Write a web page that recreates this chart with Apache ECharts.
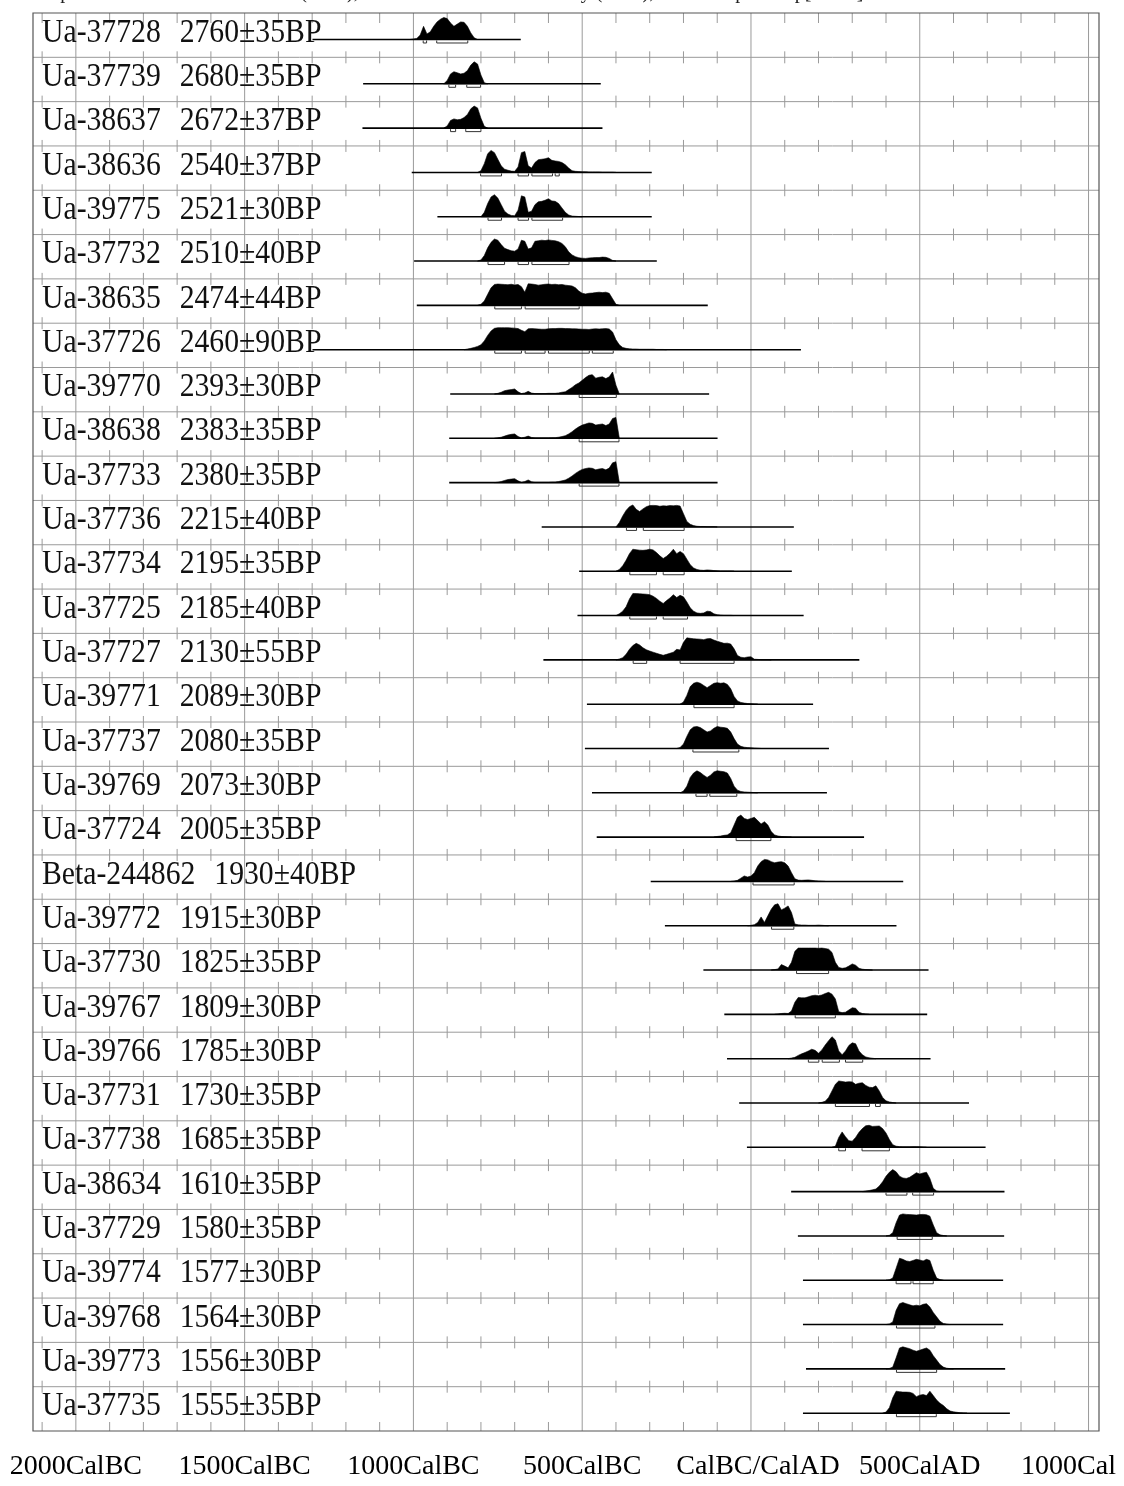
<!DOCTYPE html>
<html><head><meta charset="utf-8">
<script src="https://cdn.jsdelivr.net/npm/echarts@6/dist/echarts.min.js"></script>
<style>html,body{margin:0;padding:0;background:#fff}#c{width:1124px;height:1486px}</style>
</head><body><div id="c"></div>
<script>
const xMin = -2127, xMax = 1031;
const majorTicks = [-2000, -1500, -1000, -500, 0, 500, 1000];
const tickLabels = ['2000CalBC', '1500CalBC', '1000CalBC', '500CalBC', 'CalBC/CalAD', '500CalAD', '1000Cal'];
const minorTicks = [-2100, -1900, -1800, -1700, -1600, -1400, -1300, -1200, -1100, -900, -800, -700, -600, -400, -300, -200, -100, 100, 200, 300, 400, 600, 700, 800, 900];
const headerText = 'Atmospheric data from Reimer et al (2009);OxCal v4.1.7 Bronk Ramsey (2010); r:5 sd:12 prob usp[chron]';

const sampleIds = ['Ua-37728','Ua-37739','Ua-38637','Ua-38636','Ua-39775','Ua-37732','Ua-38635','Ua-37726','Ua-39770','Ua-38638','Ua-37733','Ua-37736','Ua-37734','Ua-37725','Ua-37727','Ua-39771','Ua-37737','Ua-39769','Ua-37724','Beta-244862','Ua-39772','Ua-37730','Ua-39767','Ua-39766','Ua-37731','Ua-37738','Ua-38634','Ua-37729','Ua-39774','Ua-39768','Ua-39773','Ua-37735'];
const bpLabels = ['2760±35BP','2680±35BP','2672±37BP','2540±37BP','2521±30BP','2510±40BP','2474±44BP','2460±90BP','2393±30BP','2383±35BP','2380±35BP','2215±40BP','2195±35BP','2185±40BP','2130±55BP','2089±30BP','2080±35BP','2073±30BP','2005±35BP','1930±40BP','1915±30BP','1825±35BP','1809±30BP','1785±30BP','1730±35BP','1685±35BP','1610±35BP','1580±35BP','1577±30BP','1564±30BP','1556±30BP','1555±35BP'];
const lineStart = [-1299,-1149,-1151,-1005,-929,-998,-990,-1299,-891,-894,-894,-620,-509,-514,-615,-486,-492,-471,-457,-297,-255,-141,-79,-71,-35,-12,119,139,154,154,163,154];
const lineEnd = [-682,-445,-440,-294,-294,-279,-128,148,-124,-99,-99,127,121,156,321,184,231,225,335,451,431,526,522,532,646,695,751,750,747,747,753,767];
const densStep = 10;
const densStart = [-1010,-910,-910,-810,-800,-810,-810,-850,-760,-760,-760,-400,-400,-400,-400,-210,-220,-210,-110,-60,-10,60,70,110,200,240,330,400,400,400,400,390];

const d0 = [0,2,5,20,60,25,35,60,80,92,100,95,75,60,70,80,78,60,30,8,0];
const d1 = [0,15,45,55,50,45,48,60,85,100,90,40,5,0];
const d2 = [0,10,35,42,38,40,48,62,88,100,92,45,8,0];
const d3 = [0,8,40,85,100,90,60,30,15,10,6,5,25,90,95,30,20,45,58,60,62,67,55,52,50,45,35,20,8,5,4,3,3,2,2,2,2,1,1,1,1,0];
const d4 = [0,20,60,90,100,85,55,25,12,6,5,30,95,90,20,25,55,68,70,75,82,72,70,60,40,20,8,3,2,1,0];
const d5 = [0,5,25,60,85,100,95,75,58,52,47,45,55,95,90,55,60,90,92,95,93,96,94,92,88,80,65,42,28,20,15,13,12,14,15,16,16,18,17,12,3,0];
const d6 = [0,5,20,50,80,95,97,96,95,94,96,93,95,85,60,98,97,95,92,94,96,97,95,96,94,95,92,90,88,80,65,55,52,55,56,58,60,58,60,55,30,5,0];
const d7 = [0,3,6,10,15,22,40,65,85,97,100,100,100,100,99,98,96,88,82,95,96,95,94,93,93,95,96,96,97,97,96,96,95,95,94,93,93,92,94,95,94,95,96,94,80,45,22,10,6,4,3,3,2,2,2,2,2,1,1,1,0];
const d8 = [0,3,8,15,18,20,23,10,2,5,12,4,2,2,2,2,3,3,3,5,8,10,20,30,42,50,62,75,85,88,72,76,78,70,78,100,40,0];
const d9 = [0,2,5,10,15,18,20,8,2,5,10,4,2,2,2,2,2,3,3,5,8,12,20,30,42,52,60,65,70,68,60,63,65,58,65,90,95,0];
const d10 = [0,2,5,10,14,16,18,8,2,5,12,4,2,2,2,2,2,3,3,5,8,12,20,30,42,52,60,64,67,65,58,62,64,58,66,90,95,0];
const d11 = [0,20,50,75,92,100,80,70,82,92,97,98,97,94,96,95,97,96,98,95,60,25,12,6,3,2,2,1,1,1,0];
const d12 = [0,8,25,50,80,100,98,96,95,97,100,97,85,70,58,68,82,100,80,90,80,55,30,15,8,5,4,6,5,3,2,1,1,1,1,0];
const d13 = [0,8,20,40,75,100,100,99,98,97,95,88,78,65,55,68,80,95,82,92,85,62,35,20,12,10,12,20,18,8,4,2,1,1,1,0];
const d14 = [0,4,10,25,48,65,75,68,55,46,40,35,30,25,21,25,30,35,48,45,80,100,98,96,95,94,92,96,97,90,85,80,75,76,72,50,20,12,10,13,14,3,2,1,1,1,0];
const d15 = [0,10,40,80,95,100,95,85,75,85,95,98,95,97,90,70,35,15,8,5,3,2,1,0];
const d16 = [0,5,20,55,85,98,100,95,85,75,80,92,100,97,95,92,75,45,20,10,6,4,3,2,1,0];
const d17 = [0,8,30,70,90,100,92,80,70,80,95,100,98,96,90,65,30,12,6,4,3,2,1,0];
const d18 = [0,3,5,8,10,20,55,90,100,85,80,85,90,75,60,70,55,25,10,5,3,2,1,0];
const d19 = [0,2,5,15,25,20,25,40,70,90,100,98,90,85,88,90,85,70,40,12,6,5,6,7,5,3,2,1,0];
const d20 = [0,2,5,15,40,15,45,75,95,100,72,80,90,60,8,4,3,3,2,2,2,3,2,1,0];
const d21 = [0,2,5,25,18,10,35,85,100,100,100,100,100,100,99,100,98,95,80,35,12,8,10,18,28,22,8,4,2,1,0];
const d22 = [0,2,4,5,4,15,55,77,75,75,80,85,87,85,88,95,100,92,70,12,8,10,20,30,28,10,4,2,0];
const d23 = [0,3,6,15,22,28,35,43,38,25,40,62,82,100,85,35,18,35,60,72,68,35,18,8,4,2,0];
const d24 = [0,3,8,25,55,85,100,98,95,97,96,85,90,92,80,72,70,78,55,25,10,5,2,0];
const d25 = [0,5,45,70,48,30,28,45,68,85,98,100,95,96,97,85,65,35,12,5,3,2,2,2,3,3,2,1,0];
const d26 = [0,3,5,8,12,25,45,70,88,100,90,70,62,60,65,75,86,80,85,88,60,15,3,0];
const d27 = [0,3,15,60,95,100,98,97,96,95,97,98,96,90,50,15,5,2,0];
const d28 = [0,2,10,55,100,95,88,85,90,95,92,88,95,90,45,10,3,0];
const d29 = [0,3,12,65,95,100,95,90,85,88,85,92,95,80,55,35,15,5,2,0];
const d30 = [0,2,8,50,95,100,96,92,85,80,85,90,95,85,60,40,20,8,3,1,0];
const d31 = [0,5,25,70,100,98,96,96,95,90,75,82,85,80,100,80,60,45,35,20,10,6,4,2,1,0];
const densities = [d0,d1,d2,d3,d4,d5,d6,d7,d8,d9,d10,d11,d12,d13,d14,d15,d16,d17,d18,d19,d20,d21,d22,d23,d24,d25,d26,d27,d28,d29,d30,d31];

const ranges = [
  [[-971,-961],[-931,-839]],
  [[-895,-875],[-842,-801]],
  [[-890,-875],[-845,-800]],
  [[-801,-739],[-690,-659],[-649,-588],[-580,-568]],
  [[-779,-739],[-690,-659],[-649,-558]],
  [[-779,-730],[-690,-659],[-649,-539]],
  [[-759,-680],[-669,-509]],
  [[-759,-680],[-669,-610],[-600,-479],[-470,-408]],
  [[-509,-399]],
  [[-509,-391]],
  [[-509,-391]],
  [[-369,-339],[-319,-198]],
  [[-359,-280],[-260,-198]],
  [[-359,-280],[-260,-188]],
  [[-349,-309],[-210,-50]],
  [[-169,-50]],
  [[-172,-36]],
  [[-163,-130],[-122,-42]],
  [[-44,59]],
  [[6,128]],
  [[61,127]],
  [[135,230]],
  [[131,250]],
  [[170,201],[211,262],[280,331]],
  [[250,351],[369,383]],
  [[260,280],[329,410]],
  [[400,462],[479,541]],
  [[433,537]],
  [[430,474],[480,540]],
  [[431,545]],
  [[431,550]],
  [[431,549]]
];

const rowCount = sampleIds.length;
const BASE = 0.598, PEAK = 0.4965;
const SERIF = '"Liberation Serif", "Times New Roman", serif';

function gridItem(params, api) {
  const ch = [];
  const L = api.coord([xMin, 0])[0], R = api.coord([xMax, 0])[0];
  const T = api.coord([xMin, 0])[1], B = api.coord([xMin, rowCount])[1];
  for (let r = 1; r < rowCount; r++) {
    const y = api.coord([xMin, r])[1];
    ch.push({type: 'line', shape: {x1: L, y1: y, x2: R, y2: y}, style: {stroke: '#9a9a9a', lineWidth: 1}});
  }
  majorTicks.forEach(v => {
    const x = api.coord([v, 0])[0];
    ch.push({type: 'line', shape: {x1: x, y1: T, x2: x, y2: B}, style: {stroke: '#9a9a9a', lineWidth: 1}});
  });
  for (let r = 0; r <= rowCount; r++) {
    const y = api.coord([xMin, r])[1];
    const up = r === 0 ? 0 : (r === rowCount ? 9 : 6);
    const down = r === rowCount ? 0 : (r === 0 ? 10 : 6);
    minorTicks.forEach(v => {
      const x = api.coord([v, 0])[0];
      ch.push({type: 'line', shape: {x1: x, y1: y - up, x2: x, y2: y + down}, style: {stroke: '#9a9a9a', lineWidth: 1}});
    });
  }
  ch.push({type: 'rect', shape: {x: L, y: T, width: R - L, height: B - T}, style: {stroke: '#555', lineWidth: 1.2, fill: 'none'}});
  return {type: 'group', children: ch};
}

function rowItem(params, api) {
  const i = params.dataIndex;
  const ch = [];
  const base = i + BASE;
  const d = densities[i], s = densStart[i];
  const p1 = api.coord([lineStart[i], base]), p2 = api.coord([lineEnd[i], base]);
  ch.push({type: 'line', shape: {x1: p1[0], y1: p1[1], x2: p2[0], y2: p2[1]}, style: {stroke: '#000', lineWidth: 1.6}});
  const pts = [api.coord([s, base])];
  for (let k = 0; k < d.length; k++) {
    pts.push(api.coord([s + k * densStep, base - d[k] / 100 * PEAK]));
  }
  pts.push(api.coord([s + (d.length - 1) * densStep, base]));
  ch.push({type: 'polygon', shape: {points: pts}, style: {fill: '#000', stroke: '#000', lineWidth: 0.6}});
  ranges[i].forEach(r => {
    const a = api.coord([r[0], base]), b = api.coord([r[1], base]);
    const y0 = a[1] + 1, y1 = a[1] + 3.5;
    ch.push({type: 'polyline', shape: {points: [[a[0], y0], [a[0], y1], [b[0], y1], [b[0], y0]]}, style: {stroke: '#333', lineWidth: 1, fill: 'none'}});
  });
  const tl = api.coord([xMin, i]);
  ch.push({
    type: 'text', x: tl[0] + 9, y: tl[1] + 20, scaleX: 0.9,
    style: {
      text: '{a|' + sampleIds[i] + '}{b|' + bpLabels[i] + '}',
      rich: {
        a: {fontFamily: SERIF, fontSize: 33, fill: '#111', color: '#111'},
        b: {fontFamily: SERIF, fontSize: 33, fill: '#111', color: '#111', padding: [0, 0, 0, 21]}
      },
      fontFamily: SERIF, fontSize: 33, fill: '#111',
      align: 'left', verticalAlign: 'middle'
    }
  });
  return {type: 'group', children: ch};
}

const chart = echarts.init(document.getElementById('c'));
chart.setOption({
  animation: false,
  backgroundColor: '#fff',
  grid: {left: 33, right: 25, top: 13, bottom: 55, containLabel: false},
  xAxis: {
    type: 'value', min: xMin, max: xMax,
    axisLine: {show: false}, axisTick: {show: false}, splitLine: {show: false},
    axisLabel: {
      customValues: majorTicks,
      formatter: v => {
        const i = majorTicks.indexOf(v);
        if (i === majorTicks.length - 1) return '{last|' + tickLabels[i] + '}';
        if (v === 0) return '{zero|' + tickLabels[i] + '}';
        return tickLabels[i];
      },
      rich: {
        last: {fontFamily: SERIF, fontSize: 28, color: '#000', padding: [0, 40, 0, 0]},
        zero: {fontFamily: SERIF, fontSize: 28, color: '#000', padding: [0, 0, 0, 14]}
      },
      fontFamily: SERIF, fontSize: 28, color: '#000', margin: 22,
      showMinLabel: true, showMaxLabel: true
    }
  },
  yAxis: {type: 'value', min: 0, max: rowCount, inverse: true, show: false},
  graphic: [{type: 'text', x: 7, y: -7.5, style: {text: headerText, fontFamily: SERIF, fontSize: 20, fill: '#222', verticalAlign: 'middle'}}],
  series: [
    {type: 'custom', coordinateSystem: 'cartesian2d', renderItem: gridItem, data: [[0, 0]], silent: true, z: 1},
    {type: 'custom', coordinateSystem: 'cartesian2d', renderItem: rowItem, data: sampleIds.map((_, i) => [i, i]), silent: true, z: 2}
  ]
});
</script></body></html>
